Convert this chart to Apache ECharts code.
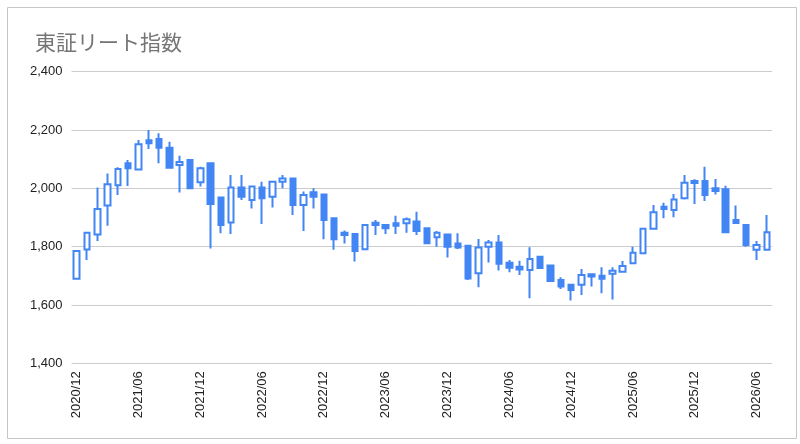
<!DOCTYPE html>
<html>
<head>
<meta charset="utf-8">
<script src="https://cdn.jsdelivr.net/npm/echarts@6/dist/echarts.min.js"></script>
<style>
  html, body { margin: 0; padding: 0; background: #fff; }
  #chart { width: 800px; height: 444px; }
</style>
</head>
<body>
<div id="chart"></div>
<script>
// monthly candles, 2020/12 - 2026/07
const months = [
    '2020/12', '2021/01', '2021/02', '2021/03', '2021/04', '2021/05', '2021/06', '2021/07', '2021/08', '2021/09', '2021/10', '2021/11',
    '2021/12', '2022/01', '2022/02', '2022/03', '2022/04', '2022/05', '2022/06', '2022/07', '2022/08', '2022/09', '2022/10', '2022/11',
    '2022/12', '2023/01', '2023/02', '2023/03', '2023/04', '2023/05', '2023/06', '2023/07', '2023/08', '2023/09', '2023/10', '2023/11',
    '2023/12', '2024/01', '2024/02', '2024/03', '2024/04', '2024/05', '2024/06', '2024/07', '2024/08', '2024/09', '2024/10', '2024/11',
    '2024/12', '2025/01', '2025/02', '2025/03', '2025/04', '2025/05', '2025/06', '2025/07', '2025/08', '2025/09', '2025/10', '2025/11',
    '2025/12', '2026/01', '2026/02', '2026/03', '2026/04', '2026/05', '2026/06', '2026/07'
];
const open = [
    1690, 1790, 1842, 1941, 2011, 2086, 2065, 2165, 2169, 2139, 2080, 2097,
    2021, 2086, 1969, 1883, 2003, 1960, 2003, 1971, 2023, 2034, 1943, 1987,
    1979, 1897, 1848, 1843, 1791, 1882, 1874, 1880, 1880, 1886, 1863, 1832,
    1842, 1811, 1803, 1709, 1800, 1814, 1745, 1731, 1720, 1765, 1735, 1686,
    1669, 1669, 1705, 1700, 1707, 1714, 1743, 1777, 1861, 1937, 1926, 1966,
    2025, 2025, 2000, 1997, 1891, 1874, 1789, 1789
];
const close = [
    1785, 1848, 1929, 2014, 2066, 2069, 2151, 2155, 2139, 2071, 2090, 2000,
    2069, 1946, 1874, 2003, 1971, 2006, 1966, 2023, 2034, 1943, 1977, 1971,
    1891, 1825, 1840, 1785, 1874, 1874, 1863, 1872, 1894, 1854, 1812, 1848,
    1800, 1797, 1691, 1797, 1814, 1741, 1728, 1722, 1758, 1727, 1682, 1663,
    1651, 1703, 1698, 1690, 1717, 1734, 1779, 1861, 1918, 1929, 1962, 2019,
    2018, 1977, 1991, 1849, 1881, 1806, 1806, 1849
];
const low = [
    1688, 1754, 1819, 1872, 1977, 2008, 2062, 2135, 2086, 2069, 1986, 1998,
    2006, 1794, 1846, 1843, 1960, 1931, 1878, 1934, 2000, 1909, 1854, 1931,
    1825, 1789, 1811, 1749, 1789, 1840, 1843, 1843, 1848, 1840, 1810, 1800,
    1763, 1792, 1686, 1661, 1746, 1718, 1712, 1703, 1623, 1725, 1680, 1655,
    1615, 1634, 1663, 1640, 1619, 1712, 1741, 1775, 1860, 1897, 1901, 1962,
    1946, 1957, 1979, 1848, 1879, 1800, 1754, 1787
];
const high = [
    1787, 1850, 2003, 2051, 2072, 2097, 2166, 2200, 2189, 2160, 2112, 2100,
    2074, 2088, 1970, 2046, 2046, 2008, 2023, 2025, 2046, 2036, 1989, 2000,
    1980, 1898, 1855, 1845, 1876, 1891, 1876, 1906, 1900, 1920, 1866, 1854,
    1844, 1846, 1805, 1826, 1823, 1840, 1754, 1752, 1798, 1768, 1737, 1695,
    1670, 1723, 1707, 1729, 1729, 1751, 1800, 1863, 1943, 1951, 1981, 2046,
    2031, 2074, 2032, 2009, 1941, 1876, 1819, 1909
];
const yTicks = [1400, 1600, 1800, 2000, 2200, 2400];

const blue = '#4285F4';
const candles = months.map((m, i) => [open[i], close[i], low[i], high[i]]);

const chart = echarts.init(document.getElementById('chart'), null, { renderer: 'canvas' });
chart.setOption({
    animation: false,
    backgroundColor: '#fff',
    title: {
        text: '東証リート指数',
        left: 30,
        top: 27,
        textStyle: {
            fontFamily: '"Noto Sans CJK JP", sans-serif',
            fontSize: 21,
            fontWeight: 'normal',
            color: '#757575'
        }
    },
    graphic: [{
        type: 'rect',
        silent: true,
        shape: { x: 7.5, y: 7.5, width: 789, height: 431 },
        style: { fill: 'none', stroke: '#c6c6c6', lineWidth: 1 }
    }],
    grid: { left: 71.5, right: 28, top: 71.7, bottom: 80.7 },
    xAxis: {
        type: 'category',
        data: months,
        boundaryGap: true,
        axisLine: { show: false },
        axisTick: { show: false },
        axisLabel: {
            interval: 5,
            rotate: 90,
            margin: 8,
            fontFamily: '"Liberation Sans", Arial, sans-serif',
            fontSize: 13,
            color: '#222'
        },
        splitLine: { show: false }
    },
    yAxis: {
        type: 'value',
        min: yTicks[0],
        max: yTicks[yTicks.length - 1],
        interval: 200,
        axisLine: { show: false },
        axisTick: { show: false },
        axisLabel: {
            margin: 9,
            fontFamily: '"Liberation Sans", Arial, sans-serif',
            fontSize: 13,
            color: '#222',
            formatter: v => v.toLocaleString('en-US')
        },
        splitLine: { lineStyle: { color: '#cccccc', width: 1 } }
    },
    series: [{
        type: 'candlestick',
        data: candles,
        barWidth: 6,
        itemStyle: {
            color: '#ffffff',
            color0: blue,
            borderColor: blue,
            borderColor0: blue,
            borderWidth: 2
        }
    }]
});
window.addEventListener('resize', () => chart.resize());
</script>
</body>
</html>
